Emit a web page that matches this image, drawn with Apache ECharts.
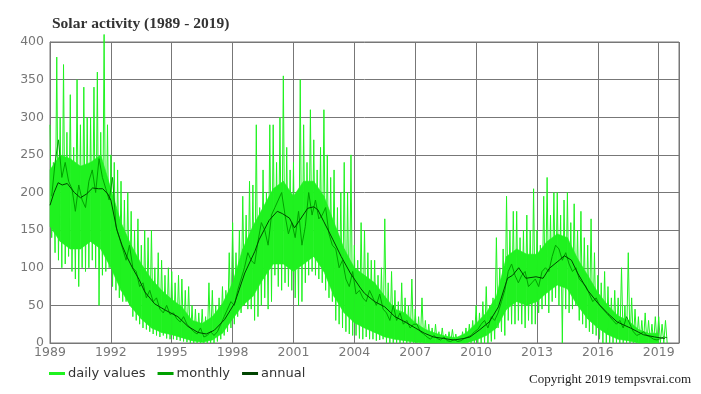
<!DOCTYPE html>
<html>
<head>
<meta charset="utf-8">
<script src="https://cdn.jsdelivr.net/npm/echarts@6/dist/echarts.min.js"></script>
<style>
html, body { margin: 0; background: #fff; }
#chart { width: 701px; height: 394px; }
</style>
</head>
<body>
<div id="chart"></div>
<script>
// daily values: spike tops / bottoms every second month, from 1989
var dailyHigh = [
    290, 240, 380, 300, 370, 280,   330, 260, 350, 290, 340, 300,
    300, 340, 360, 280, 410, 290,   250, 240, 230, 215, 190, 200,
    175, 150, 165, 130, 150, 140,   150, 100, 120, 110,  90, 100,
     95,  80,  90,  85,  70,  75,    50,  45,  40,  45,  35,  80,
     70,  50,  60,  75,  70, 120,   160, 120, 150, 195, 170, 215,
    210, 290, 180, 230, 200, 290,   290, 240, 300, 355, 260, 230,
    240, 200, 350, 290, 240, 310,   270, 230, 260, 310, 250, 220,
    230, 180, 200, 240, 200, 250,   130, 110, 160, 150, 120, 110,
    110,  90, 100, 165,  80,  95,    70,  55,  80,  60,  50,  85,
     45,  35,  60,  30,  25,  20,    25,  15,  20,  12,  15,  18,
     12,   8,  15,  20,  25,  30,    50,  40,  55,  75,  50,  60,
    140, 100, 125, 195, 150, 175,   175, 140, 150, 170, 150, 205,
    150, 130, 195, 220, 170, 200,   200, 170, 190, 200, 160, 185,
    150, 175, 140, 130, 165, 120,    90,  80,  95,  75,  60,  70,
     60, 100,  50, 120,  60,  45,    35,  30,  40,  30,  25,  35,
     35,  25,  30
];
var dailyLow = [
    140, 120, 110, 100, 105, 115,    95,  85,  75, 100,  95, 100,
    110, 100,  50,  90,  95, 100,    75,  70,  60,  55,  55,  50,
     35,  30,  25,  20,  18,  15,    12,  10,   8,  10,   6,   5,
      5,   4,   3,   2,   1,   0,     0,   0,   0,   0,   0,   0,
      0,   2,   5,  10,  15,  20,    25,  35,  40,  50,  45,  45,
     30,  35,  50,  60,  45,  55,    90,  75,  70,  80,  75,  70,
     60,  50,  55,  80,  90,  95,    90,  85,  80,  70,  60,  55,
     30,  25,  20,  15,  12,  10,    10,   6,   5,   8,   5,   5,
      3,   4,   5,   0,   0,   0,     0,   0,   0,   0,   0,   0,
      0,   0,   0,   0,   0,   0,     0,   0,   0,   0,   0,   0,
      0,   0,   0,   0,   0,   0,     0,   0,   0,   0,   2,   5,
     20,  15,  10,  30,  25,  25,    30,  25,  20,  30,  25,  25,
     40,  45,  50,  40,  55,  60,    50,   0,  45,  40,  45,  50,
     30,  25,  20,  15,  12,  10,     5,   0,   0,   0,   0,   0,
      0,   0,   0,   0,   0,   0,     0,   0,   0,   0,   0,   0,
      0,   0,   0
];
// dense core of the daily values, every half year from 1989.0 to 2019.0
var coreLow = [
    155, 135, 125, 125, 135, 125, 100,  70,  48,  32,
     20,  14,  11,   7,   3,   1,   4,  13,  32,  50,
     62,  85, 105, 105,  95, 105, 115,  95,  62,  40,
     27,  20,  14,   8,   5,   3,   1,   0,   0,   0,
      0,   0,   4,  10,  20,  45,  55,  50,  55,  67,
     77,  72,  50,  32,  20,  11,   5,   3,   0,   0,
      0
];
var coreHigh = [
    230, 250, 245, 235, 240, 250, 205, 160, 130, 105,
     85,  70,  58,  48,  30,  26,  35,  52,  80, 125,
    155, 180, 205, 215, 195, 215, 215, 195, 160, 125,
    100,  90,  80,  62,  45,  40,  27,  18,  13,   9,
      7,  13,  26,  40,  62, 115, 125, 118, 118, 135,
    145, 140, 112,  90,  67,  50,  36,  30,  18,  13,
     13
];
// monthly means, every second month from 1989
var monthly = [
    195, 240, 270, 220, 240, 215,   205, 175, 210, 190, 180, 215,
    230, 200, 245, 220, 205, 190,   220, 155, 140, 125, 110, 130,
    100,  95,  75,  80,  60,  70,    55,  60,  45,  40,  50,  38,
     40,  32,  28,  35,  25,  20,    15,  12,  20,   8,  10,  15,
     10,  15,  25,  35,  45,  55,    50,  70,  85, 100, 120, 110,
    105, 135, 160, 150, 130, 170,   180, 190, 200, 170, 145, 160,
    140, 175, 130, 155, 200, 170,   190, 165, 170, 180, 145, 130,
    125, 100, 110,  85,  75,  95,    65,  70,  60,  55,  70,  60,
     50,  65,  45,  40,  30,  50,    30,  40,  25,  30,  20,  25,
     25,  15,  12,   8,   5,  10,     6,   4,   8,   3,   2,   5,
      2,   3,   6,   8,  10,  15,    18,  25,  30,  20,  35,  30,
     40,  55,  70,  95, 105,  90,    80,  90,  95,  75,  80,  85,
     75,  95, 100,  95, 115, 130,   125, 110, 120, 105,  95, 100,
     85,  80,  75,  65,  55,  60,    50,  45,  40,  35,  30,  25,
     30,  20,  35,  25,  15,  10,    12,  15,  10,   8,   5,   4,
      6,   8,   7
];
// smoothed annual curve
var annualYears = [
    1989.0, 1989.2, 1989.4, 1989.6, 1989.85, 1990.2, 1990.5, 1990.8, 1991.1, 1991.4,
    1991.6, 1991.85, 1992.0, 1992.3, 1992.55, 1992.8, 1993.1, 1993.4, 1993.67, 1994.16,
    1994.66, 1995.3, 1995.8, 1996.3, 1996.7, 1997.1, 1997.6, 1998.1, 1998.6, 1999.1,
    1999.3, 1999.8, 2000.2, 2000.45, 2000.8, 2001.05, 2001.3, 2001.7, 2002.0, 2002.2,
    2002.5, 2002.95, 2003.35, 2003.8, 2004.3, 2004.5, 2005.0, 2005.5, 2006.0, 2006.5,
    2007.0, 2007.45, 2007.9, 2008.4, 2008.9, 2009.4, 2009.7, 2010.15, 2010.65, 2011.1,
    2011.55, 2011.8, 2012.1, 2012.45, 2012.95, 2013.3, 2013.6, 2014.1, 2014.35, 2014.7,
    2015.0, 2015.5, 2016.0, 2016.5, 2016.95, 2017.6, 2018.25, 2018.8, 2019.3
];
var annualValues = [
    183, 200, 213, 210, 212, 200, 193, 198, 206, 205,
    205, 198, 190, 150, 130, 114, 98, 84, 68, 52,
    44, 35, 22, 14, 12, 17, 31, 53, 93, 122,
    137, 163, 175, 172, 166, 153, 163, 179, 181, 177,
    161, 137, 115, 93, 73, 66, 55, 48, 35, 28,
    20, 13, 8, 6, 4, 6, 8, 17, 28, 48,
    86, 90, 100, 86, 88, 86, 99, 110, 116, 110,
    93, 70, 53, 39, 28, 20, 11, 8, 6
];

var dailyData = [];
for (var i = 0; i < dailyHigh.length; i++) {
    var x = 1989 + i / 6;
    dailyData.push([x, dailyHigh[i]]);
    dailyData.push([x + 1 / 12, dailyLow[i]]);
}
var coreData = [];
for (var i = 0; i < coreLow.length; i++) {
    coreData.push([1989 + i * 0.5, coreLow[i], coreHigh[i]]);
}
var monthlyData = [];
for (var i = 0; i < monthly.length; i++) {
    monthlyData.push([1989 + (i * 2 + 1) / 12, monthly[i]]);
}
var annualData = [];
for (var i = 0; i < annualYears.length; i++) {
    annualData.push([annualYears[i], annualValues[i]]);
}

var dailyColor = '#1ff21f';

// one quad of the dense band between two neighbouring samples
function renderCore(params, api) {
    var i = params.dataIndex;
    if (i >= coreData.length - 1) return;
    var a = coreData[i], b = coreData[i + 1];
    var pts = [
        api.coord([a[0], a[1]]),
        api.coord([a[0], a[2]]),
        api.coord([b[0], b[2]]),
        api.coord([b[0], b[1]])
    ];
    return {
        type: 'polygon',
        shape: { points: pts },
        style: { fill: dailyColor, stroke: dailyColor, lineWidth: 0.6 }
    };
}

var myChart = echarts.init(document.getElementById('chart'));
var option = {
    animation: false,
    title: {
        text: 'Solar activity (1989 - 2019)',
        left: 47,
        top: 11,
        textStyle: { fontFamily: 'Liberation Serif', fontSize: 15.5, fontWeight: 'bold', color: '#333' }
    },
    legend: {
        left: 44,
        top: 362,
        itemWidth: 16,
        itemHeight: 3,
        itemGap: 12,
        icon: 'rect',
        textStyle: { fontFamily: 'DejaVu Sans', fontSize: 13, color: '#333', padding: [0, 0, 0, -2] },
        data: ['daily values', 'monthly', 'annual']
    },
    grid: { left: 50, right: 22, top: 42, bottom: 51 },
    xAxis: {
        type: 'value',
        min: 1989,
        max: 2020,
        interval: 3,
        axisLine: { lineStyle: { color: '#777' } },
        axisTick: { show: false },
        axisLabel: {
            showMaxLabel: false,
            margin: 3,
            fontFamily: 'DejaVu Sans',
            fontSize: 12.5,
            color: '#777',
            formatter: function (v) { return String(v); }
        },
        splitLine: { show: true, lineStyle: { color: '#777' } }
    },
    yAxis: {
        type: 'value',
        min: 0,
        max: 400,
        interval: 50,
        axisLine: { show: true, lineStyle: { color: '#777' } },
        axisTick: { show: false },
        axisLabel: { margin: 6, fontFamily: 'DejaVu Sans', fontSize: 12.5, color: '#777' },
        splitLine: { lineStyle: { color: '#777' } }
    },
    graphic: [{
        type: 'rect',
        shape: { x: 50, y: 42, width: 629, height: 301 },
        style: { fill: 'none', stroke: '#777', lineWidth: 1 },
        silent: true
    }, {
        type: 'text',
        left: 529,
        top: 373,
        style: { text: 'Copyright 2019 tempsvrai.com', fontFamily: 'Liberation Serif', fontSize: 13, fill: '#222' }
    }],
    series: [{
        name: 'daily values',
        type: 'line',
        data: dailyData,
        showSymbol: false,
        clip: false,
        color: dailyColor,
        lineStyle: { width: 1 }
    }, {
        name: 'core',
        type: 'custom',
        renderItem: renderCore,
        data: coreData,
        encode: { x: 0, y: [1, 2] },
        silent: true,
        z: 1
    }, {
        name: 'monthly',
        type: 'line',
        data: monthlyData,
        showSymbol: false,
        color: '#00a000',
        lineStyle: { width: 1 }
    }, {
        name: 'annual',
        type: 'line',
        data: annualData,
        showSymbol: false,
        color: '#004400',
        lineStyle: { width: 1 }
    }]
};
myChart.setOption(option);
</script>
</body>
</html>
